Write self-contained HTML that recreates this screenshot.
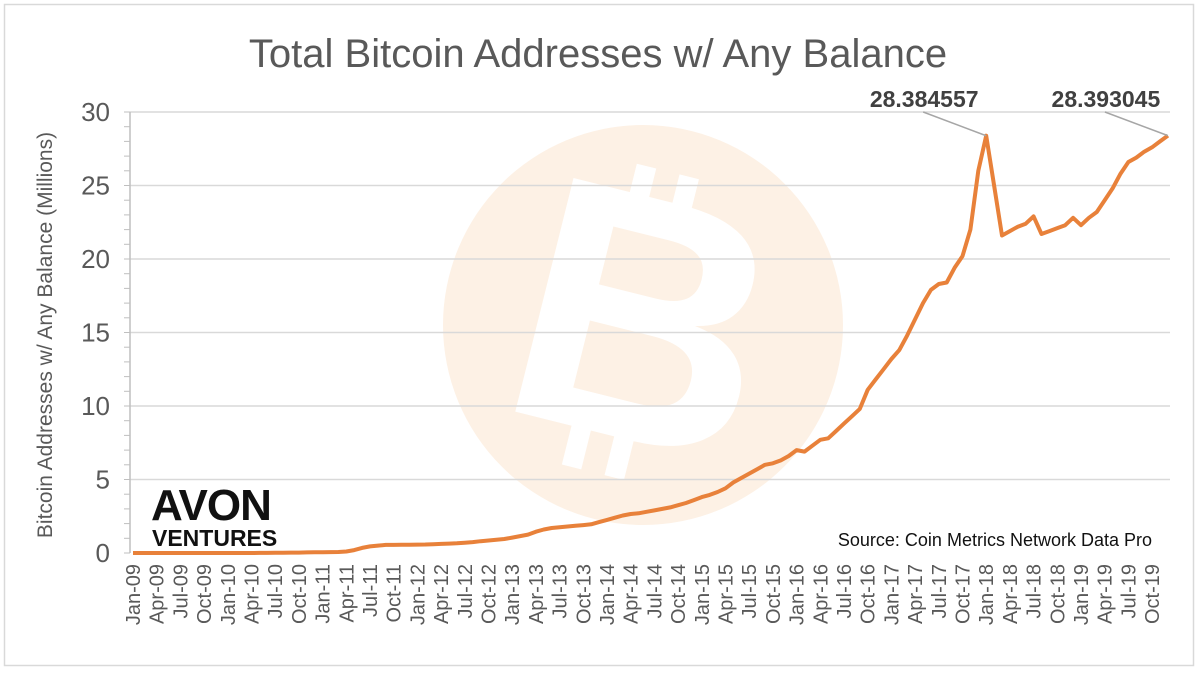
<!DOCTYPE html>
<html><head><meta charset="utf-8"><style>
body{margin:0;background:#fff;font-family:"Liberation Sans",sans-serif;}
</style></head><body>
<svg id="chart" width="1200" height="675" viewBox="0 0 1200 675" xmlns="http://www.w3.org/2000/svg">
<rect x="4.5" y="4.5" width="1189" height="661" fill="#fff" stroke="#d9d9d9" stroke-width="1.5"/>
<g>
<circle cx="643" cy="325" r="200" fill="#fdf1e5"/>
<g transform="rotate(14 643 325)" fill="#fff">
<rect x="598" y="170" width="20" height="45"/><rect x="642" y="170" width="20" height="45"/>
<rect x="598" y="435" width="20" height="45"/><rect x="642" y="435" width="20" height="45"/>
<text x="643" y="440" text-anchor="middle" font-size="350" font-weight="bold" font-family="Liberation Sans,sans-serif">B</text>
</g>
</g>
<text x="598" y="67" text-anchor="middle" font-size="40" fill="#595959">Total Bitcoin Addresses w/ Any Balance</text>
<text transform="translate(52 335) rotate(-90)" text-anchor="middle" font-size="21" fill="#595959">Bitcoin Addresses w/ Any Balance (Millions)</text>
<g id="grid"></g><g id="yticks"></g><g id="xticks"></g>
<line x1="130" y1="112" x2="130" y2="553" stroke="#bfbfbf" stroke-width="1.5"/>
<g font-weight="bold" fill="#111">
<text x="151" y="520" font-size="44" style="letter-spacing:-1px">AVON</text>
<text x="152" y="546" font-size="23">VENTURES</text>
</g>
<text x="1152" y="546" text-anchor="end" font-size="18" fill="#111">Source: Coin Metrics Network Data Pro</text>
<path id="line" fill="none" stroke="#e8813a" stroke-width="4" stroke-linejoin="round"/>
<g id="annot"></g>
</svg>
<script>
const yearLabels=["09","10","11","12","13","14","15","16","17","18","19"];
const quarterMonths=["Jan","Apr","Jul","Oct"];
const yTicks=[0,5,10,15,20,25,30];
const values=[
0,0,0,0,0,0,0,0,0,0,0,0,
0,0,0,0,0.01,0.01,0.02,0.02,0.03,0.03,0.04,0.05,
0.05,0.06,0.07,0.1,0.2,0.35,0.45,0.5,0.55,0.55,0.56,0.56,
0.57,0.58,0.6,0.62,0.64,0.66,0.7,0.74,0.8,0.85,0.9,0.95,
1.05,1.15,1.25,1.45,1.6,1.7,1.75,1.8,1.85,1.9,1.95,2.1,
2.25,2.4,2.55,2.65,2.7,2.8,2.9,3.0,3.1,3.25,3.4,3.6,
3.8,3.95,4.15,4.4,4.8,5.1,5.4,5.7,6.0,6.1,6.3,6.6,
7.0,6.9,7.3,7.7,7.8,8.3,8.8,9.3,9.8,11.1,11.8,12.5,
13.2,13.8,14.8,15.9,17.0,17.9,18.3,18.4,19.4,20.2,22.0,26.0,
28.384557,25.0,21.6,21.9,22.2,22.4,22.9,21.7,21.9,22.1,22.3,22.8,
22.3,22.8,23.2,24.0,24.8,25.8,26.6,26.9,27.3,27.6,28.0,28.393045];
const peakLabels=["28.384557","28.393045"];
const peakIdx=[108,131];
const NS="http://www.w3.org/2000/svg";
const x=i=>133+i*7.9;
const y=v=>553-v*14.7;
function mk(tag,attrs,parent){const e=document.createElementNS(NS,tag);for(const k in attrs)e.setAttribute(k,attrs[k]);parent.appendChild(e);return e;}
const grid=document.getElementById('grid'),yt=document.getElementById('yticks'),xt=document.getElementById('xticks');
yTicks.forEach(t=>{
 if(t>0){const g=mk('line',{x1:130,x2:1170,y1:y(t),y2:y(t),stroke:'#d9d9d9','stroke-width':1.5},grid);
 
 }
 const l=mk('text',{x:110,y:y(t)+9,'text-anchor':'end','font-size':26,fill:'#595959'},yt);
 l.textContent=t;
 
 
});
for(let v=0;v<=30;v++){mk('line',{x1:124,x2:130,y1:y(v),y2:y(v),stroke:'#bfbfbf','stroke-width':1},yt);}
let qi=0;
yearLabels.forEach(yr=>{quarterMonths.forEach(m=>{
 const xx=x(qi*3);
 const l=mk('text',{transform:`translate(${xx+7} 564) rotate(-90)`,'text-anchor':'end','font-size':20,fill:'#595959'},xt);
 l.textContent=m+'-'+yr;
 
 
 qi++;});});
document.getElementById('line').setAttribute('d',values.map((v,i)=>(i?'L':'M')+x(i).toFixed(1)+' '+y(v).toFixed(1)).join(' '));
const an=document.getElementById('annot');
peakIdx.forEach((pi,k)=>{
 const px=x(pi),py=y(values[pi]);
 const ln=mk('line',{x1:px-63,y1:112,x2:px,y2:py,stroke:'#a6a6a6','stroke-width':1.5},an);
 
 
 const t=mk('text',{x:px-62,y:107,'text-anchor':'middle','font-size':23,'font-weight':'bold',fill:'#404040'},an);
 t.textContent=peakLabels[k];
 
 
});
</script>
</body></html>
